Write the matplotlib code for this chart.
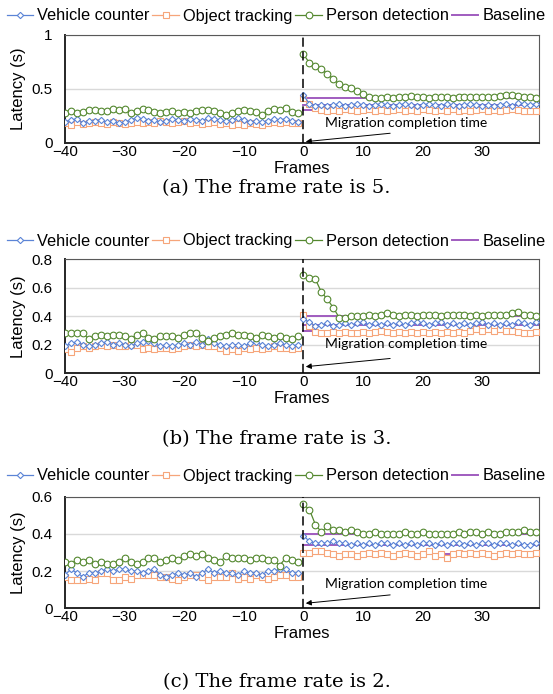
import matplotlib
matplotlib.use("Agg")
import matplotlib.pyplot as plt
import numpy as np
from matplotlib.lines import Line2D

# ---------------- data ----------------
frames_neg = list(range(-40, 0))
frames_pos = list(range(0, 40))
xtick_vals = [-40, -30, -20, -10, 0, 10, 20, 30]
series_names = ["Vehicle counter", "Object tracking", "Person detection", "Baseline"]
captions = ["(a) The frame rate is 5.", "(b) The frame rate is 3.", "(c) The frame rate is 2."]

# panel (a) frame rate 5
vc_a_neg = [0.19,0.21,0.22,0.18,0.20,0.20,0.21,0.19,0.20,0.18,0.19,0.21,0.23,0.22,0.20,0.21,0.19,0.20,0.22,0.21,
            0.20,0.22,0.21,0.20,0.23,0.22,0.21,0.20,0.21,0.23,0.21,0.19,0.20,0.19,0.20,0.22,0.21,0.22,0.20,0.19]
ot_a_neg = [0.18,0.16,0.19,0.17,0.18,0.19,0.18,0.17,0.19,0.18,0.17,0.18,0.19,0.18,0.19,0.18,0.20,0.19,0.18,0.19,
            0.20,0.18,0.19,0.17,0.18,0.19,0.17,0.18,0.16,0.17,0.16,0.18,0.17,0.16,0.18,0.19,0.18,0.19,0.18,0.18]
pd_a_neg = [0.27,0.29,0.27,0.28,0.30,0.30,0.29,0.29,0.31,0.30,0.31,0.27,0.29,0.31,0.30,0.28,0.27,0.28,0.29,0.27,
            0.28,0.27,0.29,0.30,0.30,0.29,0.27,0.26,0.27,0.29,0.30,0.29,0.28,0.26,0.29,0.31,0.30,0.32,0.28,0.27]
vc_a_pos = [0.44,0.36,0.34,0.35,0.34,0.35,0.36,0.34,0.35,0.36,0.35,0.34,0.35,0.36,0.35,0.34,0.35,0.36,0.35,0.34,
            0.35,0.36,0.35,0.34,0.36,0.35,0.34,0.35,0.36,0.35,0.34,0.35,0.34,0.35,0.36,0.34,0.37,0.36,0.35,0.36]
ot_a_pos = [0.41,0.36,0.32,0.30,0.29,0.30,0.29,0.31,0.30,0.29,0.30,0.31,0.29,0.30,0.29,0.30,0.31,0.29,0.30,0.29,
            0.31,0.30,0.29,0.30,0.29,0.31,0.29,0.30,0.29,0.30,0.31,0.29,0.30,0.29,0.30,0.31,0.30,0.29,0.29,0.29]
pd_a_pos = [0.82,0.74,0.71,0.68,0.64,0.59,0.54,0.52,0.51,0.48,0.45,0.42,0.41,0.41,0.42,0.41,0.42,0.42,0.43,0.42,
            0.42,0.41,0.42,0.42,0.42,0.41,0.42,0.42,0.42,0.42,0.42,0.42,0.42,0.43,0.44,0.44,0.43,0.42,0.42,0.41]
base_a = [0.41, 0.35, 0.30]

# panel (b) frame rate 3
vc_b_neg = [0.19,0.21,0.22,0.20,0.19,0.20,0.21,0.22,0.20,0.21,0.20,0.19,0.21,0.22,0.23,0.21,0.19,0.20,0.19,0.20,
            0.21,0.20,0.22,0.20,0.24,0.21,0.20,0.19,0.20,0.20,0.19,0.21,0.22,0.20,0.19,0.20,0.21,0.20,0.19,0.20]
ot_b_neg = [0.17,0.15,0.18,0.19,0.18,0.19,0.20,0.19,0.20,0.19,0.19,0.20,0.20,0.17,0.18,0.17,0.18,0.18,0.17,0.18,
            0.19,0.20,0.19,0.20,0.19,0.19,0.18,0.16,0.17,0.16,0.18,0.17,0.18,0.17,0.18,0.19,0.18,0.18,0.17,0.18]
pd_b_neg = [0.28,0.28,0.28,0.28,0.24,0.26,0.27,0.26,0.27,0.27,0.26,0.24,0.27,0.28,0.25,0.24,0.26,0.26,0.26,0.25,
            0.27,0.28,0.28,0.25,0.23,0.25,0.26,0.27,0.28,0.27,0.27,0.26,0.25,0.27,0.26,0.25,0.26,0.25,0.24,0.26]
vc_b_pos = [0.38,0.36,0.33,0.34,0.35,0.33,0.34,0.35,0.34,0.35,0.36,0.34,0.35,0.34,0.35,0.34,0.35,0.34,0.35,0.36,
            0.35,0.34,0.35,0.36,0.34,0.35,0.34,0.35,0.34,0.35,0.36,0.34,0.35,0.34,0.35,0.34,0.36,0.35,0.34,0.36]
ot_b_pos = [0.41,0.33,0.29,0.28,0.28,0.29,0.28,0.29,0.28,0.28,0.29,0.28,0.29,0.30,0.29,0.28,0.29,0.28,0.29,0.28,
            0.29,0.28,0.29,0.28,0.29,0.28,0.29,0.28,0.30,0.31,0.30,0.31,0.30,0.31,0.30,0.30,0.29,0.28,0.28,0.29]
pd_b_pos = [0.69,0.67,0.66,0.57,0.52,0.46,0.39,0.39,0.40,0.40,0.40,0.41,0.40,0.41,0.42,0.41,0.40,0.41,0.41,0.40,
            0.41,0.41,0.41,0.40,0.41,0.41,0.41,0.41,0.40,0.41,0.40,0.41,0.41,0.41,0.41,0.42,0.43,0.41,0.41,0.40]
base_b = [0.405, 0.34, 0.295]

# panel (c) frame rate 2
vc_c_neg = [0.18,0.21,0.19,0.17,0.19,0.19,0.20,0.21,0.20,0.21,0.21,0.20,0.20,0.19,0.20,0.21,0.18,0.17,0.18,0.19,
            0.18,0.19,0.17,0.19,0.21,0.19,0.20,0.19,0.19,0.18,0.20,0.19,0.19,0.18,0.20,0.20,0.21,0.21,0.19,0.19]
ot_c_neg = [0.17,0.15,0.15,0.15,0.16,0.15,0.19,0.19,0.15,0.15,0.17,0.16,0.18,0.18,0.18,0.18,0.17,0.17,0.16,0.15,
            0.17,0.18,0.18,0.17,0.15,0.17,0.17,0.17,0.19,0.16,0.17,0.16,0.18,0.17,0.16,0.17,0.18,0.18,0.17,0.17]
pd_c_neg = [0.25,0.24,0.26,0.25,0.26,0.24,0.25,0.24,0.24,0.25,0.27,0.25,0.24,0.25,0.27,0.27,0.25,0.26,0.27,0.26,
            0.28,0.29,0.28,0.29,0.27,0.26,0.25,0.28,0.27,0.27,0.27,0.26,0.27,0.27,0.26,0.26,0.23,0.27,0.26,0.25]
vc_c_pos = [0.39,0.36,0.35,0.35,0.35,0.36,0.35,0.35,0.34,0.35,0.34,0.35,0.34,0.35,0.35,0.34,0.35,0.34,0.35,0.34,
            0.35,0.35,0.34,0.35,0.34,0.35,0.35,0.34,0.35,0.34,0.35,0.35,0.34,0.35,0.35,0.34,0.35,0.34,0.34,0.35]
ot_c_pos = [0.30,0.30,0.31,0.31,0.30,0.29,0.28,0.29,0.29,0.28,0.29,0.30,0.29,0.30,0.29,0.28,0.29,0.30,0.29,0.28,
            0.29,0.31,0.28,0.29,0.27,0.29,0.30,0.29,0.30,0.29,0.30,0.29,0.28,0.29,0.30,0.29,0.30,0.29,0.29,0.30]
pd_c_pos = [0.56,0.53,0.45,0.41,0.44,0.42,0.42,0.41,0.42,0.41,0.40,0.40,0.41,0.40,0.40,0.40,0.40,0.41,0.40,0.40,
            0.41,0.40,0.40,0.40,0.40,0.40,0.41,0.40,0.41,0.41,0.40,0.41,0.40,0.40,0.41,0.41,0.41,0.42,0.41,0.41]
base_c = [0.40, 0.342, 0.292]

ylims = [1.0, 0.8, 0.6]
yticks_a = [0, 0.5, 1]
yticks_b = [0, 0.2, 0.4, 0.6, 0.8]
yticks_c = [0, 0.2, 0.4, 0.6]
ytick_labels_a = ["0", "0.5", "1"]
ytick_labels_b = ["0", "0.2", "0.4", "0.6", "0.8"]
ytick_labels_c = ["0", "0.2", "0.4", "0.6"]

# ---------------- style ----------------
plt.rcParams['font.family'] = ['Liberation Sans', 'DejaVu Sans']
C_VC = "#5B84D6"
C_OT = "#F6A57A"
C_PD = "#54882F"
C_BL = "#A05CBF"

W, H = 553, 694
fig = plt.figure(figsize=(W / 100, H / 100), dpi=100)

ax_boxes = [  # left, top, width, height in pixels (top-origin)
    (65, 35, 474, 107.5),
    (65, 259.3, 474, 114),
    (65, 496.7, 474, 111.6),
]
legend_y = [16, 241, 476]
caption_y = [188, 439, 682]
text_frac_y = [0.18, 0.257, 0.218]
tail_frac_y = [0.086, 0.13, 0.12]
head_frac_y = [0.008, 0.058, 0.045]

panels = [
    (vc_a_neg, ot_a_neg, pd_a_neg, vc_a_pos, ot_a_pos, pd_a_pos, base_a, yticks_a, ytick_labels_a),
    (vc_b_neg, ot_b_neg, pd_b_neg, vc_b_pos, ot_b_pos, pd_b_pos, base_b, yticks_b, ytick_labels_b),
    (vc_c_neg, ot_c_neg, pd_c_neg, vc_c_pos, ot_c_pos, pd_c_pos, base_c, yticks_c, ytick_labels_c),
]

vc_kw = dict(color=C_VC, lw=0.9, marker='D', ms=3.2, mfc='white', mec=C_VC, mew=0.8)
ot_kw = dict(color=C_OT, lw=0.9, marker='s', ms=3.8, mfc='white', mec=C_OT, mew=0.8)
pd_kw = dict(color=C_PD, lw=0.9, marker='o', ms=4.8, mfc='white', mec=C_PD, mew=0.8)

for i, (vcn, otn, pdn, vcp, otp, pdp, base, yt, ytl) in enumerate(panels):
    l, t, w, h = ax_boxes[i]
    ax = fig.add_axes([l / W, 1 - (t + h) / H, w / W, h / H])
    ax.set_xlim(-40, 39.5)
    ax.set_ylim(0, ylims[i])
    ax.set_yticks(yt)
    ax.set_yticklabels(ytl)
    ax.set_xticks(xtick_vals)
    ax.tick_params(axis='both', length=0, labelsize=11)
    ax.tick_params(axis='y', pad=9)
    ax.tick_params(axis='x', pad=1.5)
    ax.yaxis.grid(True, color='#D9D9D9', lw=1.0)
    ax.set_axisbelow(True)
    for s in ['top', 'right']:
        ax.spines[s].set_color('#595959')
        ax.spines[s].set_linewidth(0.8)
    for s in ['left', 'bottom']:
        ax.spines[s].set_color('#262626')
        ax.spines[s].set_linewidth(1.4)

    for b in base:
        ax.plot([0, 39.5], [b, b], color=C_BL, lw=1.4, zorder=2)
    ax.plot(frames_neg, otn, zorder=3, **ot_kw)
    ax.plot(frames_pos, otp, zorder=3, **ot_kw)
    ax.plot(frames_neg, vcn, zorder=4, **vc_kw)
    ax.plot(frames_pos, vcp, zorder=4, **vc_kw)
    ax.plot(frames_neg, pdn, zorder=5, **pd_kw)
    ax.plot(frames_pos, pdp, zorder=5, **pd_kw)

    ax.axvline(0, color='black', lw=1.1, ls=(0, (6, 3)), zorder=6)

    ax.annotate("", xy=(0.508, head_frac_y[i]), xycoords='axes fraction',
                xytext=(0.686, tail_frac_y[i]), textcoords='axes fraction',
                arrowprops=dict(arrowstyle='-|>', color='black', lw=0.7, mutation_scale=8,
                                shrinkA=0, shrinkB=0))
    ax.text(0.549, text_frac_y[i], "Migration completion time", transform=ax.transAxes,
            fontsize=10, family=['Lato', 'DejaVu Sans'], va='center', ha='left')

    ax.set_ylabel("Latency (s)", fontsize=12, labelpad=4)
    ax.set_xlabel("Frames", fontsize=12, labelpad=1.5)

    handles = [
        Line2D([], [], **vc_kw),
        Line2D([], [], **ot_kw),
        Line2D([], [], **pd_kw),
        Line2D([], [], color=C_BL, lw=1.4),
    ]
    fig.legend(handles, series_names, loc='center', bbox_to_anchor=(276 / W, 1 - legend_y[i] / H),
               ncol=4, frameon=False, fontsize=11.8, handlelength=1.6, handletextpad=0.25,
               columnspacing=0.2, borderaxespad=0, borderpad=0)

    fig.text(0.5, 1 - caption_y[i] / H, captions[i], ha='center', va='center',
             fontsize=14, family=['DejaVu Serif'])

fig.savefig("out.png", dpi=100)
